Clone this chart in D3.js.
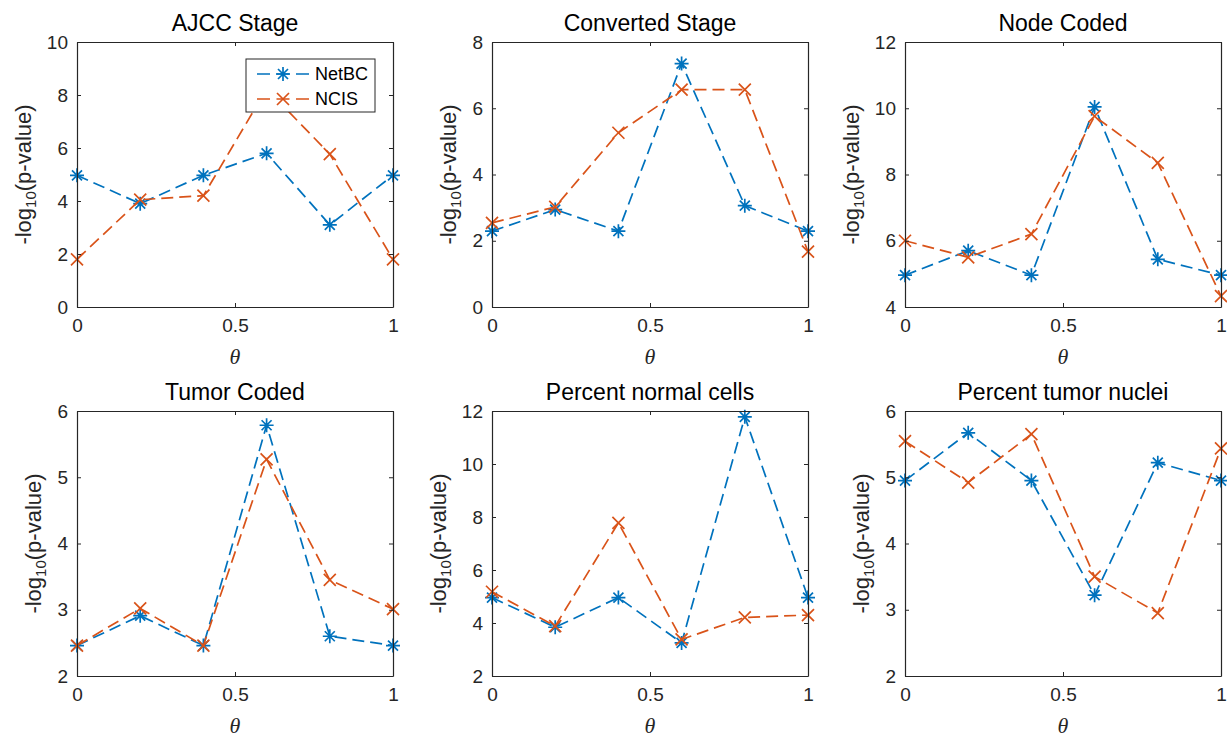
<!DOCTYPE html>
<html>
<head>
<meta charset="utf-8">
<script src="https://cdn.jsdelivr.net/npm/d3@7"></script>
<style>
  body { margin: 0; background: #fff; }
  text { font-family: "Liberation Sans", Arial, sans-serif; }
</style>
</head>
<body>
<svg id="fig" width="1227" height="738"></svg>
<script>
// theta values shared by every panel
const thetas = [0, 0.2, 0.4, 0.6, 0.8, 1];
const xTicks = [0, 0.5, 1];

const titles = ['AJCC Stage', 'Converted Stage', 'Node Coded',
  'Tumor Coded', 'Percent normal cells', 'Percent tumor nuclei'];

// -log10(p-value), NetBC series
const netbcAjcc = [4.97, 3.9, 4.97, 5.8, 3.1, 4.97];
const netbcConverted = [2.29, 2.94, 2.29, 7.35, 3.06, 2.29];
const netbcNode = [4.96, 5.7, 4.96, 10.04, 5.44, 4.96];
const netbcTumor = [2.46, 2.91, 2.46, 5.785, 2.6, 2.46];
const netbcNormal = [4.96, 3.84, 4.96, 3.25, 11.78, 4.96];
const netbcNuclei = [4.95, 5.67, 4.95, 3.22, 5.22, 4.95];

// -log10(p-value), NCIS series
const ncisAjcc = [1.8, 4.05, 4.2, 8.23, 5.77, 1.8];
const ncisConverted = [2.54, 3.02, 5.26, 6.56, 6.56, 1.67];
const ncisNode = [6.0, 5.5, 6.2, 9.76, 8.35, 4.33];
const ncisTumor = [2.46, 3.02, 2.46, 5.27, 3.45, 3.01];
const ncisNormal = [5.18, 3.88, 7.78, 3.38, 4.21, 4.3];
const ncisNuclei = [5.545, 4.92, 5.65, 3.5, 2.95, 5.435];

// y ranges and tick labels
const yDomains = [[0, 10], [0, 8], [4, 12], [2, 6], [2, 12], [2, 6]];
const yTickSets = [[0, 2, 4, 6, 8, 10], [0, 2, 4, 6, 8], [4, 6, 8, 10, 12],
  [2, 3, 4, 5, 6], [2, 4, 6, 8, 10, 12], [2, 3, 4, 5, 6]];

const seriesNames = ['NetBC', 'NCIS'];
const netbcAll = [netbcAjcc, netbcConverted, netbcNode, netbcTumor, netbcNormal, netbcNuclei];
const ncisAll = [ncisAjcc, ncisConverted, ncisNode, ncisTumor, ncisNormal, ncisNuclei];

const colors = ['#0072BD', '#D95319'];
const axisColor = '#262626';

const svg = d3.select('#fig');
const lefts = [77, 492, 905];
const tops = [42, 411];
const width = 316;
const height = 265;

function drawMarker(g, kind, color) {
  if (kind === 0) {
    g.append('path')
      .attr('d', 'M-7,0H7M0,-7V7M-5,-5L5,5M-5,5L5,-5')
      .attr('stroke', color).attr('stroke-width', 1.7).attr('fill', 'none');
  } else {
    g.append('path')
      .attr('d', 'M-6,-6L6,6M-6,6L6,-6')
      .attr('stroke', color).attr('stroke-width', 1.7).attr('fill', 'none');
  }
}

function styleAxis(sel) {
  sel.select('.domain').attr('stroke', axisColor).attr('stroke-width', 1.2);
  sel.selectAll('.tick line').attr('stroke', axisColor).attr('stroke-width', 1);
  sel.selectAll('.tick text').attr('fill', axisColor)
    .style('font-size', '19px').style('font-family', '"Liberation Sans", Arial, sans-serif');
}

titles.forEach((title, i) => {
  const left = lefts[i % 3];
  const top = tops[Math.floor(i / 3)];
  const g = svg.append('g').attr('transform', `translate(${left}, ${top})`);

  const x = d3.scaleLinear().domain([0, 1]).range([0, width]);
  const y = d3.scaleLinear().domain(yDomains[i]).range([height, 0]);

  g.append('rect').attr('width', width).attr('height', height).attr('fill', '#fff');

  // series
  [netbcAll[i], ncisAll[i]].forEach((vals, s) => {
    const pts = thetas.map((t, k) => [t, vals[k]]);
    const line = d3.line().x(d => x(d[0])).y(d => y(d[1]));
    g.append('path')
      .datum(pts)
      .attr('d', line)
      .attr('fill', 'none')
      .attr('stroke', colors[s])
      .attr('stroke-width', 1.7)
      .attr('stroke-dasharray', '12,6');
    pts.forEach(p => {
      const m = g.append('g').attr('transform', `translate(${x(p[0])}, ${y(p[1])})`);
      drawMarker(m, s, colors[s]);
    });
  });

  // axes with inward ticks on all four sides
  const fmtX = d => (d === 0.5 ? '0.5' : String(d));
  const bottom = g.append('g').attr('transform', `translate(0, ${height})`)
    .call(d3.axisBottom(x).tickValues(xTicks).tickSize(-4).tickSizeOuter(0).tickPadding(12).tickFormat(fmtX));
  styleAxis(bottom);
  bottom.selectAll('.tick text').attr('dy', '0.71em');

  const topAx = g.append('g')
    .call(d3.axisTop(x).tickValues(xTicks).tickSize(-4).tickSizeOuter(0).tickFormat(''));
  styleAxis(topAx);

  const leftAx = g.append('g')
    .call(d3.axisLeft(y).tickValues(yTickSets[i]).tickSize(-4).tickSizeOuter(0).tickPadding(9).tickFormat(d3.format('d')));
  styleAxis(leftAx);

  const rightAx = g.append('g').attr('transform', `translate(${width}, 0)`)
    .call(d3.axisRight(y).tickValues(yTickSets[i]).tickSize(-4).tickSizeOuter(0).tickFormat(''));
  styleAxis(rightAx);

  // widest y tick label decides where the y label goes
  let maxW = 0;
  leftAx.selectAll('.tick text').each(function () {
    maxW = Math.max(maxW, this.getComputedTextLength());
  });

  // title
  g.append('text')
    .attr('x', width / 2)
    .attr('y', -11)
    .attr('text-anchor', 'middle')
    .style('font-size', '23px')
    .attr('fill', '#000')
    .text(title);

  // x label
  g.append('text')
    .attr('x', width / 2)
    .attr('y', height + 57)
    .attr('text-anchor', 'middle')
    .style('font-family', '"Liberation Serif", "Times New Roman", serif')
    .style('font-style', 'italic')
    .style('font-size', '22px')
    .attr('fill', axisColor)
    .text('θ');

  // y label
  const yl = g.append('text')
    .attr('transform', `translate(${-9 - maxW - 16}, ${height / 2}) rotate(-90)`)
    .attr('text-anchor', 'middle')
    .style('font-size', '22px')
    .attr('fill', axisColor);
  yl.append('tspan').text('-log');
  yl.append('tspan').attr('dy', 5).style('font-size', '15px').text('10');
  yl.append('tspan').attr('dy', -5).text('(p-value)');

  // legend only in the first panel
  if (i === 0) {
    const lw = 129;
    const lh = 53;
    const lg = g.append('g').attr('transform', `translate(${width - 18 - lw}, 17)`);
    lg.append('rect').attr('width', lw).attr('height', lh)
      .attr('fill', '#fff').attr('stroke', axisColor).attr('stroke-width', 1);
    seriesNames.forEach((name, s) => {
      const ly = 15 + s * 25;
      lg.append('line')
        .attr('x1', 11).attr('x2', 63).attr('y1', ly).attr('y2', ly)
        .attr('stroke', colors[s]).attr('stroke-width', 1.7)
        .attr('stroke-dasharray', '13,6.5');
      const m = lg.append('g').attr('transform', `translate(37, ${ly})`);
      drawMarker(m, s, colors[s]);
      lg.append('text')
        .attr('x', 69).attr('y', ly).attr('dy', '0.35em')
        .style('font-size', '18px')
        .attr('fill', '#000')
        .text(name);
    });
  }
});
</script>
</body>
</html>
